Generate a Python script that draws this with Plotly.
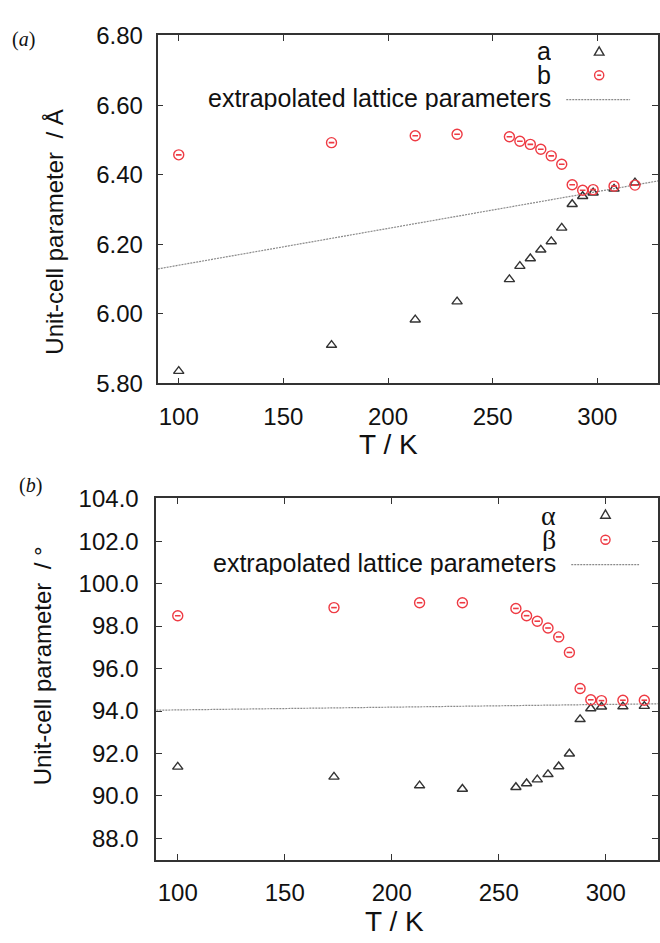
import plotly.graph_objects as go

# ---------------- data ----------------
T = [100, 173, 213, 233, 258, 263, 268, 273, 278, 283, 288, 293, 298, 308, 318]
a_vals = [5.835, 5.910, 5.983, 6.035, 6.099, 6.137, 6.159, 6.184, 6.208, 6.247,
          6.315, 6.338, 6.348, 6.359, 6.377]
b_vals = [6.457, 6.492, 6.512, 6.516, 6.509, 6.496, 6.487, 6.473, 6.454, 6.430,
          6.371, 6.355, 6.357, 6.367, 6.370]
alpha_vals = [91.37, 90.90, 90.49, 90.33, 90.41, 90.59, 90.77, 91.02, 91.39, 91.99,
              93.61, 94.12, 94.20, 94.21, 94.23]
beta_vals = [98.49, 98.87, 99.10, 99.10, 98.83, 98.49, 98.23, 97.91, 97.49, 96.76,
             95.06, 94.53, 94.49, 94.51, 94.51]
T_line = [90, 330]
len_line = [6.129, 6.383]
ang_line = [94.04, 94.35]

legend_a = ["a", "b", "extrapolated lattice parameters"]
legend_b = ["α", "β", "extrapolated lattice parameters"]

# ---------------- style ----------------
W, H = 660, 943
RED = "#ee3b44"
DARK = "#333333"
LINEGRAY = "#8a8a8a"
SANS = "Liberation Sans, Arial, sans-serif"
SERIF = "Liberation Serif, Times New Roman, serif"


def px(x, y):
    return x / W, 1 - y / H


fig = go.Figure()


def add_panel(xa, ya, v1, v2, line_vals):
    fig.add_trace(go.Scatter(x=T_line, y=line_vals, mode="lines", xaxis=xa, yaxis=ya,
                             line=dict(color=LINEGRAY, width=1.2, dash="2px,1px"),
                             showlegend=False, hoverinfo="skip"))
    fig.add_trace(go.Scatter(x=T, y=v1, mode="markers", xaxis=xa, yaxis=ya,
                             marker=dict(symbol="triangle-up-open", size=9,
                                         color=DARK, line=dict(width=1.4, color=DARK)),
                             showlegend=False))
    fig.add_trace(go.Scatter(x=T, y=v2, mode="markers", xaxis=xa, yaxis=ya,
                             marker=dict(symbol="circle-open", size=10,
                                         color=RED, line=dict(width=1.4, color=RED)),
                             showlegend=False))
    fig.add_trace(go.Scatter(x=T, y=v2, mode="markers", xaxis=xa, yaxis=ya,
                             marker=dict(symbol="line-ew-open", size=4,
                                         color=RED, line=dict(width=1.6, color=RED)),
                             showlegend=False, hoverinfo="skip"))


add_panel("x", "y", a_vals, b_vals, len_line)
add_panel("x2", "y2", alpha_vals, beta_vals, ang_line)

axis_common = dict(showline=True, linecolor=DARK, linewidth=1.5, mirror="ticks",
                   ticks="inside", ticklen=6, tickwidth=1.3, tickcolor=DARK,
                   showgrid=False, zeroline=False,
                   tickfont=dict(family=SANS, size=24, color="#111"))

fig.update_layout(
    width=W, height=H,
    margin=dict(l=0, r=0, t=0, b=0),
    paper_bgcolor="white", plot_bgcolor="white",
    showlegend=False,
    xaxis=dict(domain=[158 / W, 1], range=[89.86, 329.0], anchor="y",
               tick0=0, dtick=50, ticklabelstandoff=11, **axis_common),
    yaxis=dict(domain=[1 - 381 / H, 1 - 23 / H], range=[5.7995, 6.8005], anchor="x",
               tick0=5.8, dtick=0.2, tickformat=".2f", ticklabelstandoff=8, **axis_common),
    xaxis2=dict(domain=[156.7 / W, 1], range=[89.94, 324.4], anchor="y2",
                tick0=0, dtick=50, ticklabelstandoff=11, **axis_common),
    yaxis2=dict(domain=[1 - 870.7 / H, 1 - 499 / H], range=[87.0, 104.02], anchor="x2",
                tick0=0, dtick=2, tickformat=".1f", ticklabelstandoff=11, **axis_common),
)

annotations = []
shapes = []


def text(x, y, s, size, family=SANS, angle=0, xanchor="center", yanchor="middle",
         color="#111", height=None):
    xx, yy = px(x, y)
    d = dict(x=xx, y=yy, xref="paper", yref="paper", text=s, showarrow=False,
             textangle=angle, xanchor=xanchor, yanchor=yanchor, borderpad=0,
             font=dict(family=family, size=size, color=color))
    if height is not None:
        d["height"] = height
    annotations.append(d)


# panel labels
text(24, 27, "(<i>a</i>)", 20, SERIF)
text(31, 486, "(<i>b</i>)", 20, SERIF)
# axis titles
text(55, 225, "Unit-cell parameter\u00a0\u00a0/ Å", 24, angle=-90)
text(43, 671, "Unit-cell parameter\u00a0\u00a0/ °", 24, angle=-90)
text(389.5, 444, "T / K", 28)
text(396, 934, "T / K", 28)

# legends
la_y = [39, 63.5, 87.5]
for s, yy in zip(legend_a, la_y):
    text(554, yy, s, 25, xanchor="right", height=24)
lb_y = [516, 541, 565.5]
lb_fam = [SERIF, SERIF, SANS]
lb_size = [28, 28, 25]
for s, yy, fam, sz in zip(legend_b, lb_y, lb_fam, lb_size):
    text(559, yy, s, sz, family=fam, xanchor="right", height=24)


def tri_key(cx, cy):
    p = [px(cx - 4.8, cy + 4), px(cx + 4.8, cy + 4), px(cx, cy - 4.5)]
    path = "M {},{} L {},{} L {},{} Z".format(p[0][0], p[0][1], p[1][0], p[1][1], p[2][0], p[2][1])
    shapes.append(dict(type="path", path=path, xref="paper", yref="paper",
                       line=dict(color=DARK, width=1.4)))


def circ_key(cx, cy):
    x0, y0 = px(cx - 4.6, cy + 4.6)
    x1, y1 = px(cx + 4.6, cy - 4.6)
    shapes.append(dict(type="circle", x0=x0, y0=y0, x1=x1, y1=y1, xref="paper", yref="paper",
                       line=dict(color=RED, width=1.4)))
    a0, b0 = px(cx - 2, cy)
    a1, b1 = px(cx + 2, cy)
    shapes.append(dict(type="line", x0=a0, y0=b0, x1=a1, y1=b1, xref="paper", yref="paper",
                       line=dict(color=RED, width=1.6)))


def line_key(xs, xe, y):
    a0, b0 = px(xs, y)
    a1, b1 = px(xe, y)
    shapes.append(dict(type="line", x0=a0, y0=b0, x1=a1, y1=b1, xref="paper", yref="paper",
                       line=dict(color=LINEGRAY, width=1.2, dash="2px,1px")))


tri_key(601, 39.3)
circ_key(601, 64)
line_key(568, 632, 89)
tri_key(607.3, 515.5)
circ_key(607.3, 541.7)
line_key(573, 641, 567.3)

fig.update_layout(annotations=annotations, shapes=shapes)
fig.write_html("out.html")
